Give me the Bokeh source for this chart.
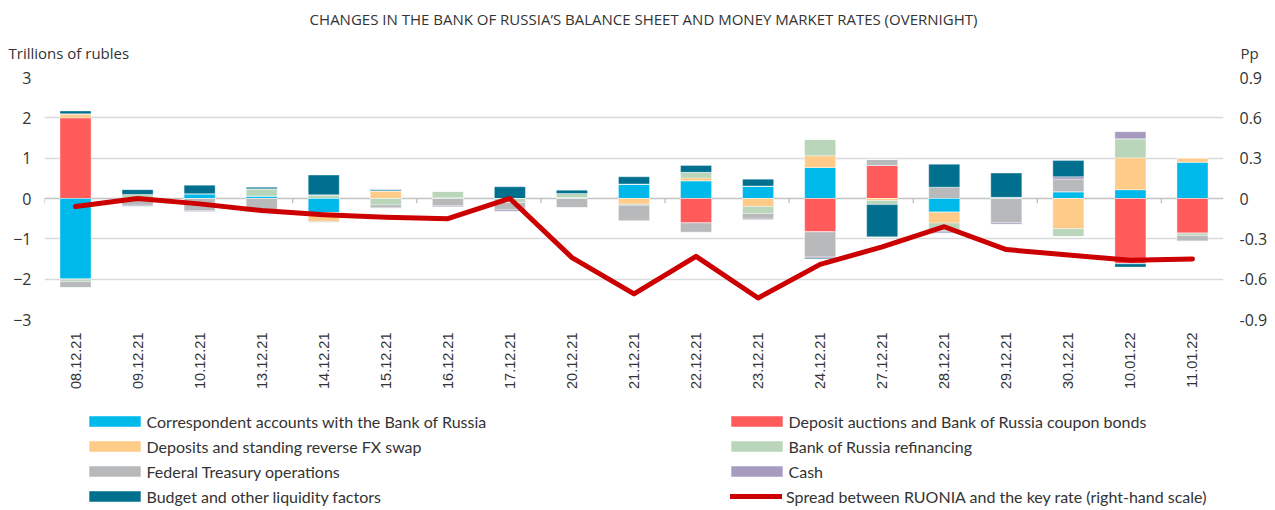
import numpy as np
from bokeh.plotting import figure
from bokeh.layouts import column
from bokeh.models import (ColumnDataSource, Range1d, FactorRange, LinearAxis, FixedTicker,
                          NumeralTickFormatter, Legend, LegendItem, Label, Span)
from bokeh.transform import dodge
from bokeh.embed import file_html
from bokeh.resources import INLINE

dates = ["08.12.21", "09.12.21", "10.12.21", "13.12.21", "14.12.21", "15.12.21", "16.12.21",
         "17.12.21", "20.12.21", "21.12.21", "22.12.21", "23.12.21", "24.12.21", "27.12.21",
         "28.12.21", "29.12.21", "30.12.21", "10.01.22", "11.01.22"]

corr_accounts = [-2.00, 0.00, 0.12, 0.06, -0.35, 0.00, 0.02, 0.00, 0.025, 0.36, 0.44, 0.31,
                 0.77, 0.00, -0.34, 0.00, 0.17, 0.22, 0.90]
deposit_auctions = [2.00, 0.00, 0.00, 0.00, 0.00, 0.00, 0.00, 0.00, 0.00, 0.00, -0.61, 0.00,
                    -0.83, 0.82, 0.00, 0.00, 0.00, -1.62, -0.86]
deposits_fx_swap = [0.10, 0.00, 0.00, 0.00, -0.22, 0.19, 0.00, 0.00, 0.00, -0.14, 0.07, -0.20,
                    0.29, -0.05, -0.27, 0.00, -0.75, 0.79, 0.11]
refinancing = [-0.06, 0.10, 0.00, 0.18, 0.09, -0.16, 0.16, -0.10, 0.10, -0.03, 0.14, -0.17,
               0.41, -0.10, -0.20, 0.03, -0.20, 0.47, -0.06]
fed_treasury = [-0.15, -0.17, -0.30, -0.30, -0.03, -0.08, -0.18, -0.18, -0.23, -0.39, -0.23, -0.14,
                -0.62, 0.15, 0.28, -0.60, 0.31, 0.00, -0.14]
cash = [0.00, -0.03, -0.03, 0.00, 0.00, 0.00, -0.03, -0.04, 0.00, 0.00, 0.00, -0.02,
        -0.03, 0.00, -0.05, -0.04, 0.06, 0.18, 0.00]
budget = [0.07, 0.12, 0.21, 0.04, 0.49, 0.03, 0.00, 0.29, 0.08, 0.18, 0.17, 0.17,
          -0.02, -0.80, 0.57, 0.60, 0.40, -0.08, 0.00]
spread = [-0.06, 0.00, -0.04, -0.09, -0.12, -0.14, -0.15, 0.00, -0.44, -0.71, -0.43, -0.74,
          -0.49, -0.36, -0.21, -0.38, -0.42, -0.46, -0.45]

series_names = ["Correspondent accounts with the Bank of Russia",
                "Deposit auctions and Bank of Russia coupon bonds",
                "Deposits and standing reverse FX swap",
                "Bank of Russia refinancing",
                "Federal Treasury operations",
                "Cash",
                "Budget and other liquidity factors"]
line_name = "Spread between RUONIA and the key rate (right-hand scale)"
title_text = "CHANGES IN THE BANK OF RUSSIA\u2019S BALANCE SHEET AND MONEY MARKET RATES (OVERNIGHT)"
left_unit = "Trillions of rubles"
right_unit = "Pp"
colors = ["#00B9EB", "#FF5B5B", "#FFCB88", "#B9D5BA", "#B8B9BB", "#A79CC0", "#01708F"]
line_color = "#CC0000"

series = [corr_accounts, deposit_auctions, deposits_fx_swap, refinancing, fed_treasury, cash, budget]
keys = ["corr", "dauc", "dfx", "refi", "fed", "cash", "budg"]

data = {"date": dates, "spread": spread}
for k, s in zip(keys, series):
    arr = np.array(s, dtype=float)
    data[k + "_pos"] = np.clip(arr, 0, None)
    data[k + "_neg"] = np.clip(arr, None, 0)
src = ColumnDataSource(data)

W = 1275
HEADER_H = 65
FOOTER_H = 106
TEXT_COLOR = "#333333"

def blank_figure(h):
    f = figure(width=W, height=h, x_range=Range1d(0, W), y_range=Range1d(0, h),
               min_border=0, min_border_left=0, min_border_right=0, min_border_top=0,
               min_border_bottom=0, x_axis_type=None, y_axis_type=None, title=None,
               output_backend="svg", toolbar_location=None, tools="")
    f.outline_line_color = None
    f.grid.visible = False
    f.frame_align = False
    return f

# ---------------- header (title and unit captions) ----------------
hdr = blank_figure(HEADER_H)
hdr.add_layout(Label(x=643, y=HEADER_H - 18, text=title_text, text_align="center",
                     text_baseline="middle", text_font="Open Sans", text_font_size="15px",
                     text_color=TEXT_COLOR))
hdr.add_layout(Label(x=8, y=HEADER_H - 52, text=left_unit, text_align="left",
                     text_baseline="middle", text_font="Open Sans", text_font_size="15px",
                     text_color=TEXT_COLOR))
hdr.add_layout(Label(x=1240, y=HEADER_H - 52, text=right_unit, text_align="left",
                     text_baseline="middle", text_font="Open Sans", text_font_size="15px",
                     text_color=TEXT_COLOR))

# ---------------- main chart ----------------
p = figure(x_range=FactorRange(*dates, range_padding=0), y_range=Range1d(-3, 3),
           frame_width=1179, frame_height=242,
           min_border_left=44, min_border_right=52, min_border_top=12, min_border_bottom=85,
           output_backend="svg", toolbar_location=None, tools="")
p.outline_line_color = None
p.frame_align = False
p.extra_y_ranges = {"pp": Range1d(-0.9, 0.9)}

p.xgrid.grid_line_color = None
p.ygrid.ticker = FixedTicker(ticks=[-3, -2, -1, 1, 2, 3])
p.ygrid.grid_line_color = "#D9D9D9"
p.ygrid.grid_line_width = 1.3
p.add_layout(Span(location=0, dimension="width", line_color="#C4C4C4", line_width=1.3,
                  level="underlay"))

label_font = "Open Sans"
ya = p.yaxis[0]
ya.ticker = FixedTicker(ticks=[-3, -2, -1, 0, 1, 2, 3])
ya.axis_line_color = None
ya.major_tick_line_color = None
ya.minor_tick_line_color = None
ya.major_tick_out = 0
ya.major_label_standoff = 13
ya.major_label_text_font = label_font
ya.major_label_text_font_size = "16px"
ya.major_label_text_color = TEXT_COLOR

ra = LinearAxis(y_range_name="pp", ticker=FixedTicker(ticks=[-0.9, -0.6, -0.3, 0, 0.3, 0.6, 0.9]),
                formatter=NumeralTickFormatter(format="0.[0]"))
ra.axis_line_color = None
ra.major_tick_line_color = None
ra.minor_tick_line_color = None
ra.major_tick_out = 0
ra.major_label_standoff = 16
ra.major_label_text_font = label_font
ra.major_label_text_font_size = "16px"
ra.major_label_text_color = TEXT_COLOR
p.add_layout(ra, "right")

xa = p.xaxis[0]
xa.axis_line_color = None
xa.major_tick_line_color = None
xa.minor_tick_line_color = None
xa.major_tick_out = 0
xa.major_label_orientation = np.pi / 2
xa.major_label_standoff = 13
xa.major_label_text_font = "Liberation Sans"
xa.major_label_text_font_size = "14.5px"
xa.major_label_text_color = TEXT_COLOR

tick_src = ColumnDataSource({"date": dates[::2]})
p.segment(x0=dodge("date", -0.5, range=p.x_range), y0=0,
          x1=dodge("date", -0.5, range=p.x_range), y1=-0.12,
          source=tick_src, line_color="#BFBFBF", line_width=1.3)

pos_r = p.vbar_stack([k + "_pos" for k in keys], x="date", width=0.5, color=colors, source=src,
                     line_color="white", line_width=0.6, line_alpha=0.6)
neg_r = p.vbar_stack([k + "_neg" for k in keys], x="date", width=0.5, color=colors, source=src,
                     line_color="white", line_width=0.6, line_alpha=0.6)
for r, c in zip(pos_r + neg_r, colors + colors):
    r.glyph.fill_color = c
    r.glyph.line_color = "white"

p.line(x="date", y="spread", y_range_name="pp", source=src, line_color=line_color,
       line_width=5, line_join="round", line_cap="round")

# ---------------- footer (legend) ----------------
ftr = blank_figure(FOOTER_H)

# legend proxies: one degenerate point each, placed outside the visible range
key_r = []
for c in colors:
    key_r.append(ftr.vbar(x=[-100], top=[0], bottom=[0], width=1, fill_color=c,
                          line_color="white", line_alpha=0.6))
key_line = ftr.line(x=[-100, -99], y=[0, 0], line_color=line_color, line_width=5, line_cap="round")

legend_font = "Lato"
def make_legend(items, loc, gw, gh, standoff):
    lg = Legend(items=items, location=loc, orientation="vertical", padding=0, margin=0,
                border_line_color=None, background_fill_alpha=0, spacing=5,
                glyph_width=gw, glyph_height=gh, label_height=20, label_standoff=standoff,
                label_text_font=legend_font, label_text_font_size="16px",
                label_text_color=TEXT_COLOR)
    ftr.add_layout(lg, "center")
    return lg

make_legend([LegendItem(label=series_names[i], renderers=[key_r[i]]) for i in (0, 2, 4, 6)],
            (81.5, 4), 65, 14, 0)
make_legend([LegendItem(label=series_names[i], renderers=[key_r[i]]) for i in (1, 3, 5)],
            (723.5, 29), 65, 14, 0)
make_legend([LegendItem(label=line_name, renderers=[key_line])], (730, 4), 52, 14, 4)

layout = column(hdr, p, ftr, spacing=0)
open("out.html", "w").write(file_html(layout, INLINE))
